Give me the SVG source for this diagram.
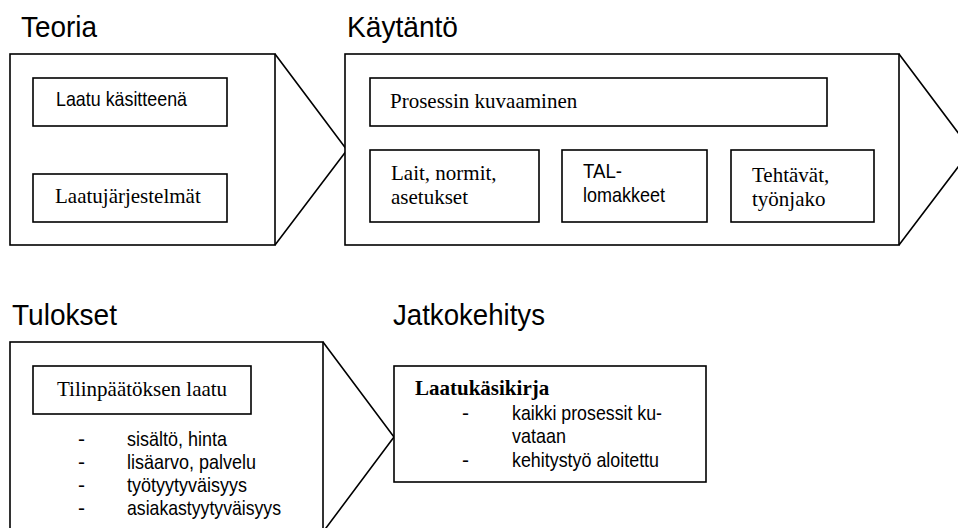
<svg xmlns="http://www.w3.org/2000/svg" width="958" height="528" viewBox="0 0 958 528">
  <style>
    .frame { fill: #ffffff; stroke: #000000; stroke-width: 1.6; }
    .chev { fill: none; stroke: #000000; stroke-width: 1.6; stroke-linejoin: miter; }
    .title { font-family: "Liberation Sans", Arial, sans-serif; font-size: 30px; fill: #000000; }
    .sans { font-family: "Liberation Sans", Arial, sans-serif; font-size: 21px; fill: #000000; }
    .serif { font-family: "Liberation Serif", "Times New Roman", serif; font-size: 21px; fill: #000000; }
    .bold { font-weight: bold; }
  </style>

  <rect width="958" height="528" fill="#ffffff"/>

  <!-- Section headings -->
  <text class="title" x="21" y="37" textLength="76" lengthAdjust="spacingAndGlyphs">Teoria</text>
  <text class="title" x="347" y="37" textLength="111" lengthAdjust="spacingAndGlyphs">Käytäntö</text>
  <text class="title" x="12" y="325" textLength="105" lengthAdjust="spacingAndGlyphs">Tulokset</text>
  <text class="title" x="393" y="325" textLength="152" lengthAdjust="spacingAndGlyphs">Jatkokehitys</text>

  <!-- Theory chevron -->
  <g id="teoria">
    <rect class="frame" x="10" y="54" width="265" height="191"/>
    <polyline class="chev" points="275,54 347,150 275,245"/>
  </g>
  <g id="laatu-kasitteena">
    <rect class="frame" x="33" y="78" width="194" height="48"/>
    <text class="sans" x="56" y="106" textLength="131" lengthAdjust="spacingAndGlyphs">Laatu käsitteenä</text>
  </g>
  <g id="laatujarjestelmat">
    <rect class="frame" x="33" y="174" width="194" height="48"/>
    <text class="serif" x="55" y="203">Laatujärjestelmät</text>
  </g>

  <!-- Practice chevron -->
  <g id="kaytanto">
    <rect class="frame" x="345" y="54" width="554" height="191"/>
    <polyline class="chev" points="899,54 971,150 899,245"/>
  </g>
  <g id="prosessin-kuvaaminen">
    <rect class="frame" x="370" y="78" width="457" height="48"/>
    <text class="serif" x="390" y="108">Prosessin kuvaaminen</text>
  </g>
  <g id="lait-normit">
    <rect class="frame" x="370" y="150" width="169" height="72"/>
    <text class="serif" x="391" y="180">Lait, normit,</text>
    <text class="serif" x="391" y="204">asetukset</text>
  </g>
  <g id="tal-lomakkeet">
    <rect class="frame" x="562" y="150" width="145" height="72"/>
    <text class="sans" x="583" y="178" textLength="39" lengthAdjust="spacingAndGlyphs">TAL-</text>
    <text class="sans" x="583" y="202" textLength="82" lengthAdjust="spacingAndGlyphs">lomakkeet</text>
  </g>
  <g id="tehtavat">
    <rect class="frame" x="731" y="150" width="143" height="72"/>
    <text class="serif" x="752" y="182">Tehtävät,</text>
    <text class="serif" x="752" y="206">työnjako</text>
  </g>

  <!-- Results chevron -->
  <g id="tulokset">
    <rect class="frame" x="10" y="342" width="313" height="190"/>
    <polyline class="chev" points="323,342 394,437 323,532"/>
    <text class="sans" x="78" y="446">-</text>
    <text class="sans" x="127" y="446" textLength="100" lengthAdjust="spacingAndGlyphs">sisältö, hinta</text>
    <text class="sans" x="78" y="469">-</text>
    <text class="sans" x="127" y="469" textLength="129" lengthAdjust="spacingAndGlyphs">lisäarvo, palvelu</text>
    <text class="sans" x="78" y="492">-</text>
    <text class="sans" x="127" y="492" textLength="120" lengthAdjust="spacingAndGlyphs">työtyytyväisyys</text>
    <text class="sans" x="78" y="515">-</text>
    <text class="sans" x="127" y="515" textLength="154" lengthAdjust="spacingAndGlyphs">asiakastyytyväisyys</text>
  </g>
  <g id="tilinpaatoksen-laatu">
    <rect class="frame" x="33" y="366" width="218" height="48"/>
    <text class="serif" x="57" y="396">Tilinpäätöksen laatu</text>
  </g>

  <!-- Further development -->
  <g id="jatkokehitys">
    <rect class="frame" x="394" y="366" width="312" height="116"/>
    <text class="serif bold" x="415" y="395">Laatukäsikirja</text>
    <text class="sans" x="462" y="420">-</text>
    <text class="sans" x="512" y="420" textLength="150" lengthAdjust="spacingAndGlyphs">kaikki prosessit ku-</text>
    <text class="sans" x="512" y="443" textLength="54" lengthAdjust="spacingAndGlyphs">vataan</text>
    <text class="sans" x="462" y="467">-</text>
    <text class="sans" x="512" y="467" textLength="147" lengthAdjust="spacingAndGlyphs">kehitystyö aloitettu</text>
  </g>

  <!-- Connectors: the chevron points above carry the flow between sections -->
  <g id="connectors"/>
</svg>
